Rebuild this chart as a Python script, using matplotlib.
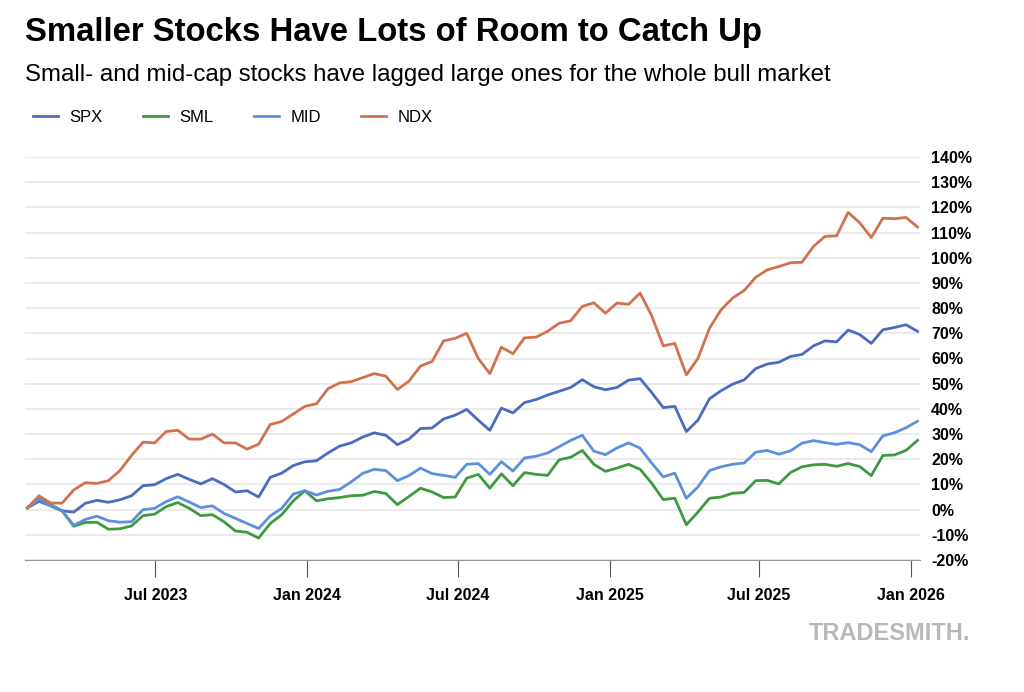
import matplotlib
matplotlib.use('Agg')
import matplotlib.pyplot as plt
import matplotlib.dates as mdates
import pandas as pd

plt.rcParams['font.family'] = ['Liberation Sans', 'DejaVu Sans']

# biweekly readings, cumulative % change
dates = pd.date_range('2023-01-27', periods=78, freq='14D')

spx = [0.7, 3.3, 1.5, -0.5, -1, 2.5, 3.7, 2.9, 3.9, 5.5, 9.5, 9.9, 12.3, 14, 12, 10.2, 12.3, 10, 7, 7.5,
       5.0, 12.8, 14.5, 17.5, 19, 19.4, 22.5, 25.2, 26.5, 28.8, 30.5, 29.5, 25.8, 28, 32.2, 32.4, 36, 37.5, 39.8, 35.5,
       31.5, 40.3, 38.4, 42.5, 43.7, 45.5, 47, 48.5, 51.6, 48.8, 47.6, 48.5, 51.4, 52, 46.5, 40.5, 41, 31, 35.5, 44,
       47.2, 49.8, 51.5, 56, 57.8, 58.5, 60.8, 61.6, 65, 67, 66.6, 71.3, 69.5, 66, 71.4, 72.3, 73.4, 70.8]
sml = [0.7, 4.6, 2, -0.5, -6.6, -5.1, -5, -7.8, -7.6, -6.5, -2.4, -1.8, 1.2, 2.8, 0.5, -2.4, -2, -4.8, -8.5, -9,
       -11.3, -5.5, -2, 3.5, 7.5, 3.5, 4.3, 4.8, 5.5, 5.7, 7.2, 6.4, 2, 5.2, 8.5, 7, 4.8, 5, 12.5, 14,
       8.5, 14.2, 9.5, 14.7, 14, 13.6, 19.8, 20.8, 23.5, 18, 15.2, 16.5, 18, 16, 10.5, 4, 4.5, -6, -1, 4.5,
       5, 6.5, 6.8, 11.5, 11.6, 10.2, 14.7, 17, 17.8, 18, 17.2, 18.3, 17.1, 13.5, 21.5, 21.7, 23.5, 27.5]
mid = [0.7, 4.1, 1.5, -0.5, -6.2, -3.9, -2.6, -4.4, -5, -4.8, 0, 0.5, 3.2, 5.1, 3, 0.8, 1.5, -1.5, -3.5, -5.5,
       -7.5, -2.5, 0.5, 6.2, 7.5, 5.8, 7.3, 8, 11, 14.4, 16, 15.5, 11.5, 13.5, 16.5, 14.3, 13.6, 12.8, 18, 18.3,
       14, 19, 15.3, 20.5, 21.2, 22.5, 25, 27.5, 29.5, 23.2, 21.8, 24.5, 26.5, 24.4, 18.5, 13, 14.5, 4.5, 9, 15.5,
       17, 18, 18.5, 22.8, 23.5, 22, 23.3, 26.4, 27.4, 26.6, 25.9, 26.6, 25.8, 23, 29.3, 30.5, 32.5, 35.1]
ndx = [0.7, 5.5, 2.6, 2.6, 7.8, 10.7, 10.4, 11.5, 15.5, 21.5, 26.8, 26.5, 31, 31.5, 28, 28, 30, 26.5, 26.5, 24,
       26, 33.8, 35, 38, 41, 42, 48, 50.3, 50.8, 52.4, 54, 53, 47.7, 51, 57, 58.8, 67, 68, 70, 60,
       54, 64.5, 61.9, 68.2, 68.5, 70.8, 74, 75, 80.7, 82.1, 78, 82, 81.5, 86, 77, 65, 66, 53.5, 60, 72,
       79.3, 84, 87, 92.2, 95.2, 96.5, 98, 98.2, 104.5, 108.5, 108.7, 118, 113.9, 108, 115.7, 115.5, 116, 112.2]

series = [('SPX', spx, '#4a6cc0'), ('SML', sml, '#3e9a3e'),
          ('MID', mid, '#5b90de'), ('NDX', ndx, '#d2724c')]

fig = plt.figure(figsize=(10.24, 6.92), dpi=100)
ax = fig.add_axes([25 / 1024, 132 / 692, 895 / 1024, 403 / 692])

for name, vals, col in series:
    ax.plot(dates, vals, color=col, lw=2.0, label=name)

ax.set_ylim(-20, 140)
ax.set_yticks(range(-20, 141, 10))
ax.yaxis.tick_right()
ax.set_yticklabels([f'{v}%' for v in range(-20, 141, 10)], fontsize=11.5, fontweight='bold')
ax.tick_params(axis='y', length=0, pad=8)
ax.grid(axis='y', color='#e6e6e6', lw=1.2)
ax.set_axisbelow(True)

ax.set_xlim(pd.Timestamp('2023-01-24'), pd.Timestamp('2026-01-12'))
ticks = pd.to_datetime(['2023-07-01', '2024-01-01', '2024-07-01', '2025-01-01', '2025-07-01', '2026-01-01'])
ax.set_xticks(ticks)
ax.xaxis.set_major_formatter(mdates.DateFormatter('%b %Y'))
ax.tick_params(axis='x', length=12, color='#555555', labelsize=11.5, pad=8)
for lab in ax.get_xticklabels():
    lab.set_fontweight('bold')

for s in ['top', 'left', 'right']:
    ax.spines[s].set_visible(False)
ax.spines['bottom'].set_color('#999999')

fig.text(25 / 1024, 1 - 33 / 692, 'Smaller Stocks Have Lots of Room to Catch Up',
         fontsize=23.7, fontweight='bold', va='center')
fig.text(25 / 1024, 1 - 75 / 692, 'Small- and mid-cap stocks have lagged large ones for the whole bull market',
         fontsize=17.3, va='center')

handles, labels = ax.get_legend_handles_labels()
fig.legend(handles, labels, loc='center left', bbox_to_anchor=(18 / 1024, 1 - 117 / 692),
           ncol=4, frameon=False, fontsize=12, handlelength=1.5, handletextpad=0.7,
           columnspacing=2.4)

fig.text(970 / 1024, 1 - 633 / 692, 'TRADESMITH.', fontsize=17, color='#b8b8b8',
         ha='right', va='center', fontweight='bold')

fig.savefig('out.png', dpi=100)
